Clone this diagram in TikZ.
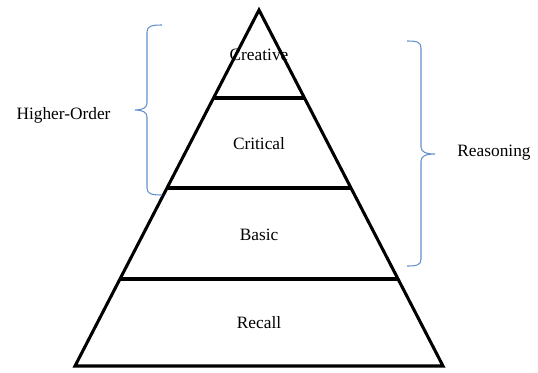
\documentclass[tikz,border=0pt]{standalone}
\usepackage{fontspec}
\setmainfont{Liberation Serif}
\usepackage{xcolor}
\usetikzlibrary{calc}

\definecolor{braceblue}{RGB}{100,145,205}

\begin{document}
\begin{tikzpicture}[x=0.75pt,y=-0.75pt,
        tier/.style={line width=2.3pt, line join=miter},
        brace/.style={draw=braceblue, line width=0.8pt},
        lbl/.style={font=\fontsize{13}{15}\selectfont, inner sep=1pt}]
        \useasboundingbox (0,0) rectangle (538,372);
        % pyramid
        \coordinate (apex) at (259,10);
        \coordinate (bl) at (75,366);
        \coordinate (br) at (443,366);
        \draw[tier] (apex) -- (bl) -- (br) -- cycle;
        \foreach \f in {0.2472,0.5,0.7556}
            \draw[tier] ($(apex)!\f!(bl)$) -- ($(apex)!\f!(br)$);
        \node[lbl] (creative) at (259,55) {Creative};
        \node[lbl] (critical) at (259,144) {Critical};
        \node[lbl] (basic) at (259,235) {Basic};
        \node[lbl] (recall) at (259,323) {Recall};
        % braces
        \draw[brace] (162,25) .. controls (152,25) and (147,26) .. (147,32) -- (147,103)
            .. controls (147,108) and (142,110) .. (135,110)
            .. controls (142,110) and (147,112) .. (147,117) -- (147,188)
            .. controls (147,194) and (152,195) .. (162,195);
        \draw[brace] (407,41) .. controls (417,41) and (421,42) .. (421,48) -- (421,147)
            .. controls (421,152) and (426,154) .. (435,154)
            .. controls (426,154) and (421,156) .. (421,161) -- (421,259)
            .. controls (421,265) and (417,266) .. (407,266);
        \node[lbl] (higher) at (63.5,115) {Higher-Order};
        \node[lbl] (reasoning) at (494,153) {Reasoning};
\end{tikzpicture}
\end{document}
